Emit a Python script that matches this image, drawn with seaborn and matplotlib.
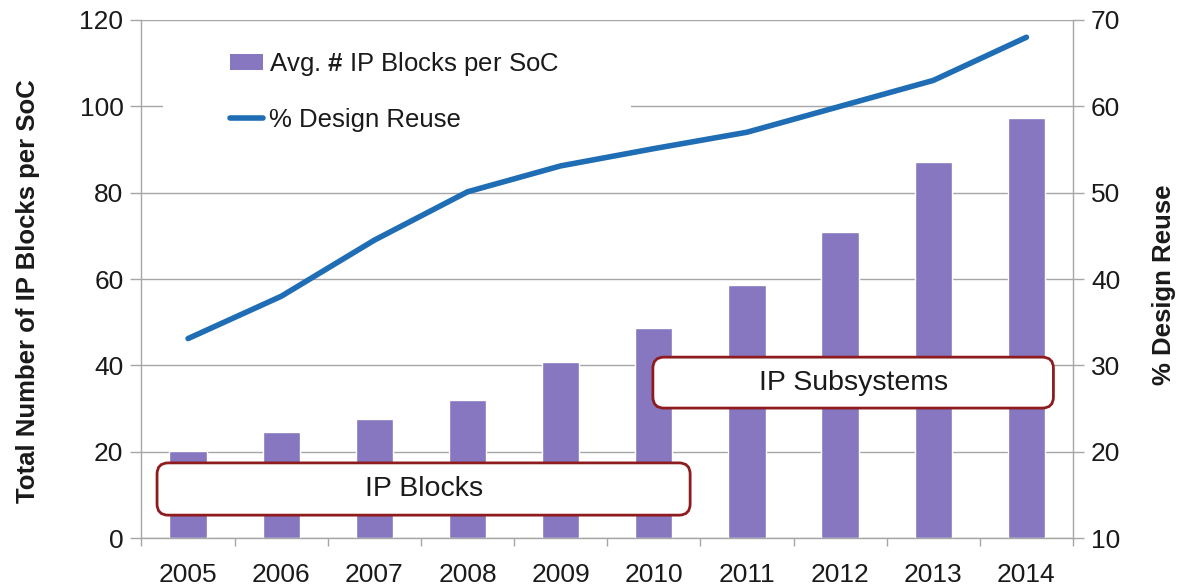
import numpy as np
import pandas as pd
import matplotlib
matplotlib.use("Agg")
import matplotlib.pyplot as plt
from matplotlib.patches import FancyBboxPatch, Patch, Rectangle
from matplotlib.lines import Line2D
import seaborn as sns

years = ["2005", "2006", "2007", "2008", "2009", "2010", "2011", "2012", "2013", "2014"]
ip_blocks = [20.2, 24.5, 27.5, 32.0, 40.8, 48.6, 58.6, 71.0, 87.0, 97.3]
design_reuse = [33.1, 38.0, 44.5, 50.1, 53.1, 55.1, 57.0, 60.0, 63.0, 68.0]

bar_label = r"Avg. $\mathbf{\#}$ IP Blocks per SoC"
line_label = "% Design Reuse"
left_ylabel = "Total Number of IP Blocks per SoC"
right_ylabel = "% Design Reuse"

BAR_COLOR = "#8677c0"
LINE_COLOR = "#1f6db4"
GRID_COLOR = "#a6a6a6"
BOX_EDGE = "#8e1c1f"
TEXT_COLOR = "#1a1a1a"

sns.set_theme(style="white")
plt.rcParams["font.family"] = ["Liberation Sans", "DejaVu Sans"]
plt.rcParams["mathtext.fontset"] = "custom"
plt.rcParams["mathtext.rm"] = "Liberation Sans"
plt.rcParams["mathtext.bf"] = "Liberation Sans:bold"

df = pd.DataFrame({"year": years, "blocks": ip_blocks, "reuse": design_reuse})
df["pos"] = np.arange(len(df))

fig = plt.figure(figsize=(11.93, 5.88), dpi=100)
ax = fig.add_axes([0.1186, 0.085, 0.7808, 0.881])

sns.barplot(data=df, x="year", y="blocks", color=BAR_COLOR, width=0.4,
            saturation=1, ax=ax, zorder=2)
ax.set_ylim(0, 120)
ax.set_xlim(-0.5, len(years) - 0.5)
ax.set_yticks(np.arange(0, 121, 20))
ax.yaxis.grid(True, color=GRID_COLOR, linewidth=1)
ax.set_axisbelow(True)

ax2 = ax.twinx()
sns.lineplot(data=df, x="pos", y="reuse", color=LINE_COLOR, linewidth=4,
             ax=ax2, solid_capstyle="round", zorder=5)
ax2.set_ylim(10, 70)
ax2.set_yticks(np.arange(10, 71, 10))
ax2.set_xlim(-0.5, len(years) - 0.5)

# spines and ticks
for a in (ax, ax2):
    for sp in a.spines.values():
        sp.set_color(GRID_COLOR)
        sp.set_linewidth(1)
    a.spines["top"].set_visible(False)
ax.spines["right"].set_visible(False)
ax2.spines["left"].set_visible(False)
ax2.spines["bottom"].set_visible(False)

ax.tick_params(axis="y", which="major", length=8, color=GRID_COLOR, width=1,
               labelsize=19, labelcolor=TEXT_COLOR, pad=5, left=True)
ax2.tick_params(axis="y", which="major", length=8, color=GRID_COLOR, width=1,
                labelsize=19, labelcolor=TEXT_COLOR, pad=5, right=True)
ax.set_xticks(np.arange(len(years)))
ax.set_xticklabels(years)
ax.set_xticks(np.arange(-0.5, len(years), 1.0), minor=True)
ax.tick_params(axis="x", which="major", length=0, labelsize=19,
               labelcolor=TEXT_COLOR, pad=18)
ax.tick_params(axis="x", which="minor", length=6, color=GRID_COLOR,
               width=1, bottom=True)

ax.set_xlabel("")
ax.set_ylabel(left_ylabel, fontsize=18.5, fontweight="bold", color=TEXT_COLOR)
ax.yaxis.set_label_coords(-0.109, 0.477)
ax2.set_xlabel("")
ax2.set_ylabel(right_ylabel, fontsize=18.5, fontweight="bold", color=TEXT_COLOR)
ax2.yaxis.set_label_coords(1.085, 0.488)

# era callouts drawn over the bars
px_x = 93.1
aspect = (1 / 4.317) / (1 / px_x)
for (x0, x1, y0, y1, txt) in [(-0.333, 5.39, 5.3, 17.4, "IP Blocks"),
                              (4.99, 9.29, 30.1, 41.9, "IP Subsystems")]:
    ax2.add_patch(FancyBboxPatch((x0, y0), x1 - x0, y1 - y0,
                                 boxstyle="round,pad=0,rounding_size=0.12",
                                 mutation_aspect=aspect, facecolor="white",
                                 edgecolor=BOX_EDGE, linewidth=2, zorder=6,
                                 transform=ax.transData))
    ax2.text((x0 + x1) / 2, (y0 + y1) / 2, txt, transform=ax.transData,
             ha="center", va="center", fontsize=20.5, color=TEXT_COLOR, zorder=7)

# white panel behind the legend that masks the gridline
ax2.add_patch(Rectangle((0.023, 0.77), 0.502, 0.2, transform=ax.transAxes,
                        facecolor="white", edgecolor="none", zorder=7.5))

handles = [Patch(facecolor=BAR_COLOR, edgecolor="none"),
           Line2D([0], [0], color=LINE_COLOR, linewidth=4)]
leg = ax2.legend(handles, [bar_label, line_label], loc="upper left",
                 bbox_to_anchor=(0.095, 0.942), fontsize=18.5, frameon=False,
                 handlelength=1.3, handleheight=0.55, handletextpad=0.2,
                 labelspacing=1.15, borderpad=0, borderaxespad=0)
for t in leg.get_texts():
    t.set_color(TEXT_COLOR)
leg.set_zorder(8)

fig.savefig("out.png", dpi=100, facecolor="white")
